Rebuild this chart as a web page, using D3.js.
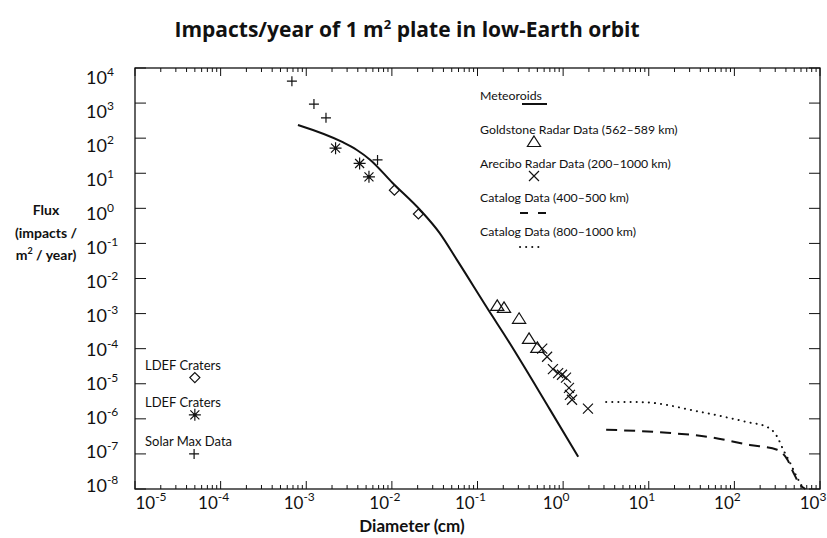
<!DOCTYPE html>
<html>
<head>
<meta charset="utf-8">
<script src="https://cdn.jsdelivr.net/npm/d3@7"></script>
<style>
  body { margin: 0; background: #fff; }
  text { font-family: Lato, "Open Sans", sans-serif; fill: #111; }
</style>
</head>
<body>
<svg id="chart"></svg>
<script>
// tick decades
const xExps = [-5, -4, -3, -2, -1, 0, 1, 2, 3];
const yExps = [-8, -7, -6, -5, -4, -3, -2, -1, 0, 1, 2, 3, 4];

// Solar Max (+)
const solarMaxD = [6.8e-4, 1.23e-3, 1.7e-3, 6.8e-3];
const solarMaxF = [4.2e3, 940, 380, 24];
// LDEF craters (asterisk)
const ldefStarD = [2.2e-3, 4.2e-3, 5.4e-3];
const ldefStarF = [52, 19, 7.9];
// LDEF craters (diamond)
const ldefDiaD = [1.07e-2, 2.04e-2];
const ldefDiaF = [3.3, 0.69];
// Goldstone radar (triangle)
const goldD = [0.17, 0.204, 0.306, 0.40, 0.50];
const goldF = [1.66e-3, 1.45e-3, 7.1e-4, 1.9e-4, 1.05e-4];
// Arecibo radar (x)
const arecD = [0.57, 0.65, 0.76, 0.875, 0.97, 1.08, 1.17, 1.2, 1.27, 1.95];
const arecF = [1.0e-4, 5.9e-5, 2.6e-5, 2.0e-5, 1.8e-5, 1.5e-5, 7.6e-6, 4.8e-6, 3.5e-6, 1.95e-6];
// Meteoroids model (solid)
const meteorD = [8.0e-4, 2.63e-3, 3.9e-3, 5.6e-3, 1.02e-2, 2.14e-2, 3.6e-2, 5.75e-2, 0.151, 0.20, 0.705, 1.5];
const meteorF = [238, 78, 46, 24, 5.3, 0.90, 0.20, 0.034, 8.1e-4, 2.8e-4, 1.8e-6, 8.3e-8];
// Catalog 800-1000 km (dotted)
const cat800D = [3.18, 7.9, 39.8, 141, 240, 316, 372, 447, 537, 631];
const cat800F = [3.0e-6, 3.0e-6, 1.58e-6, 8.1e-7, 5.9e-7, 3.1e-7, 1.32e-7, 5.6e-8, 2.2e-8, 1.07e-8];
// Catalog 400-500 km (dashed)
const cat400D = [3.18, 16.4, 47.9, 151, 316, 417, 490, 589, 676];
const cat400F = [4.9e-7, 4.0e-7, 3.1e-7, 1.8e-7, 1.32e-7, 6.8e-8, 2.9e-8, 1.3e-8, 1.0e-8];

// marker-style labels in the lower-left corner
const cornerLabels = ['LDEF Craters', 'LDEF Craters', 'Solar Max Data'];
const cornerD = [5.0e-5, 5.0e-5, 4.9e-5];
const cornerF = [1.5e-5, 1.3e-6, 1.0e-7];
const legendLabels = ['Meteoroids', 'Goldstone Radar Data (562\u2013589 km)', 'Arecibo Radar Data (200\u20131000 km)',
    'Catalog Data (400\u2013500 km)', 'Catalog Data (800\u20131000 km)'];

const W = 827, H = 538;
const pLeft = 135, pRight = 820, pTop = 68, pBottom = 489;

const svg = d3.select('#chart').attr('width', W).attr('height', H);

const x = d3.scaleLog().domain([1e-5, 1e3]).range([pLeft, pRight]);
const y = d3.scaleLog().domain([1e-8, 1e4]).range([pBottom, pTop]);
// label placement in the scan is slightly compressed versus the ticks
const yLab = d3.scaleLog().domain([1e-8, 1e4]).range([486, 78]);

const ink = '#111';

// frame
svg.append('rect')
    .attr('x', pLeft).attr('y', pTop)
    .attr('width', pRight - pLeft).attr('height', pBottom - pTop)
    .attr('fill', 'none').attr('stroke', ink).attr('stroke-width', 1.3);

const xTicks = x.ticks();
const yTicks = y.ticks();
const isMajor = v => Math.abs(Math.log10(v) - Math.round(Math.log10(v))) < 1e-6;

const tickG = svg.append('g').attr('stroke', ink).attr('stroke-width', 1);
xTicks.forEach(v => {
    const px = x(v), len = isMajor(v) ? 8 : 4;
    tickG.append('line').attr('x1', px).attr('x2', px).attr('y1', pBottom).attr('y2', pBottom - len);
    tickG.append('line').attr('x1', px).attr('x2', px).attr('y1', pTop).attr('y2', pTop + len);
});
yTicks.forEach(v => {
    const py = y(v), len = isMajor(v) ? 11 : 6;
    tickG.append('line').attr('y1', py).attr('y2', py).attr('x1', pLeft).attr('x2', pLeft + len);
    tickG.append('line').attr('y1', py).attr('y2', py).attr('x1', pRight).attr('x2', pRight - len);
});

// tick labels
function powLabel(g, e, px, py, anchor, size) {
    const t = g.append('text').attr('x', px).attr('y', py)
        .attr('text-anchor', anchor).attr('font-size', size);
    t.append('tspan').text('10');
    t.append('tspan').attr('dy', -8).attr('font-size', 12).text(e);
}
const labG = svg.append('g');
xExps.forEach(e => {
    const px = Math.min(Math.max(x(Math.pow(10, e)) - 7, 151), 814);
    powLabel(labG, e, px, 509, 'middle', 17);
});
yExps.forEach(e => {
    powLabel(labG, e, 86, yLab(Math.pow(10, e)) + 6, 'start', 18);
});

// titles
svg.append('text').attr('x', 407).attr('y', 37).attr('text-anchor', 'middle')
    .attr('font-size', 21).attr('font-weight', 'bold').style('font-family', '"Open Sans", sans-serif')
    .call(t => {
        t.append('tspan').text('Impacts/year of 1 m');
        t.append('tspan').attr('dy', -8).attr('font-size', 13).text('2');
        t.append('tspan').attr('dy', 8).text(' plate in low-Earth orbit');
    });
svg.append('text').attr('x', 412).attr('y', 532).attr('text-anchor', 'middle')
    .attr('font-size', 17).attr('font-weight', 'bold').text('Diameter (cm)');
const yt = svg.append('text').attr('text-anchor', 'middle').attr('font-size', 14).attr('font-weight', 'bold');
yt.append('tspan').attr('x', 46).attr('y', 215).text('Flux');
yt.append('tspan').attr('x', 46).attr('y', 238).text('(impacts /');
const yt3 = yt.append('tspan').attr('x', 46).attr('y', 260);
yt3.append('tspan').text('m');
yt3.append('tspan').attr('dy', -6).attr('font-size', 9).text('2');
yt3.append('tspan').attr('dy', 6).text(' / year)');

// lines
function curve(D, F) { return D.map((d, i) => [d, F[i]]); }
const line = d3.line().x(d => x(d[0])).y(d => y(d[1])).curve(d3.curveMonotoneX);
const plotG = svg.append('g');
plotG.append('path').attr('d', line(curve(meteorD, meteorF)))
    .attr('fill', 'none').attr('stroke', ink).attr('stroke-width', 2);
plotG.append('path').attr('d', line(curve(cat400D, cat400F)))
    .attr('fill', 'none').attr('stroke', ink).attr('stroke-width', 2).attr('stroke-dasharray', '11,7');
plotG.append('path').attr('d', line(curve(cat800D, cat800F)))
    .attr('fill', 'none').attr('stroke', ink).attr('stroke-width', 2)
    .attr('stroke-linecap', 'round').attr('stroke-dasharray', '0.1,6');

// markers
const markers = {
    plus: s => `M${-s},0H${s}M0,${-s}V${s}`,
    cross: s => `M${-s},${-s}L${s},${s}M${-s},${s}L${s},${-s}`,
    star: s => `M${-s},0H${s}M0,${-s}V${s}M${-s * 0.75},${-s * 0.75}L${s * 0.75},${s * 0.75}M${-s * 0.75},${s * 0.75}L${s * 0.75},${-s * 0.75}`,
    diamond: s => `M0,${-s}L${s},0L0,${s}L${-s},0Z`,
    triangle: s => `M0,${-s}L${s * 1.1},${s * 0.75}L${-s * 1.1},${s * 0.75}Z`
};
function drawPts(D, F, type, size) {
    plotG.selectAll(null).data(curve(D, F)).enter().append('path')
        .attr('transform', d => `translate(${x(d[0])},${y(d[1])})`)
        .attr('d', markers[type](size))
        .attr('fill', 'none').attr('stroke', ink).attr('stroke-width', 1.2);
    if (type === 'star') {
        plotG.selectAll(null).data(curve(D, F)).enter().append('circle')
            .attr('cx', d => x(d[0])).attr('cy', d => y(d[1])).attr('r', 1.6).attr('fill', ink);
    }
}
drawPts(solarMaxD, solarMaxF, 'plus', 5);
drawPts(ldefStarD, ldefStarF, 'star', 6);
drawPts(ldefDiaD, ldefDiaF, 'diamond', 5);
drawPts(goldD, goldF, 'triangle', 6);
drawPts(arecD, arecF, 'cross', 5);

// corner markers with labels
const cornerTypes = ['diamond', 'star', 'plus'];
cornerTypes.forEach((t, i) => {
    drawPts([cornerD[i]], [cornerF[i]], t, t === 'star' ? 6 : 5);
    svg.append('text').attr('x', pLeft + 10).attr('y', y(cornerF[i]) - 8)
        .attr('font-size', 13).text(cornerLabels[i]);
});

// legend
const legX = 480, legY0 = 100, legStep = 34;
legendLabels.forEach((lab, i) => {
    svg.append('text').attr('x', legX).attr('y', legY0 + i * legStep)
        .attr('font-size', 12.3).text(lab);
});
const lg = svg.append('g').attr('stroke', ink).attr('fill', 'none');
lg.append('line').attr('x1', 522).attr('x2', 547).attr('y1', legY0 + 4).attr('y2', legY0 + 4).attr('stroke-width', 2);
lg.append('path').attr('transform', `translate(534,${legY0 + legStep + 8})`).attr('d', markers.triangle(6)).attr('stroke-width', 1.2);
lg.append('path').attr('transform', `translate(534,${legY0 + 2 * legStep + 8})`).attr('d', markers.cross(5)).attr('stroke-width', 1.2);
lg.append('line').attr('x1', 520).attr('x2', 546).attr('y1', legY0 + 3 * legStep + 11).attr('y2', legY0 + 3 * legStep + 11)
    .attr('stroke-width', 2).attr('stroke-dasharray', '8,10');
lg.append('line').attr('x1', 520).attr('x2', 544).attr('y1', legY0 + 4 * legStep + 11).attr('y2', legY0 + 4 * legStep + 11)
    .attr('stroke-width', 2).attr('stroke-linecap', 'round').attr('stroke-dasharray', '0.1,6');
</script>
</body>
</html>
